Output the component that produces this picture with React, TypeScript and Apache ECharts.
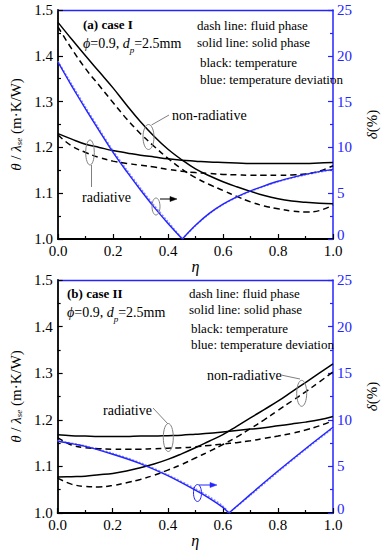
import React, { useEffect, useRef } from "react";
import * as echarts from "echarts";

// ---------- data ----------
const eta = [0, 0.05, 0.1, 0.15, 0.2, 0.25, 0.3, 0.35, 0.4, 0.45, 0.5, 0.55, 0.6, 0.65, 0.7, 0.75, 0.8, 0.85, 0.9, 0.95, 1.0];

// (a) case I  – temperature (left axis)
const nonRadSolidA = [1.473, 1.436, 1.4, 1.365, 1.33, 1.292, 1.256, 1.224, 1.196, 1.173, 1.153, 1.138, 1.125, 1.114, 1.104, 1.095, 1.088, 1.083, 1.08, 1.078, 1.077];
const nonRadDashA = [1.463, 1.415, 1.372, 1.335, 1.298, 1.262, 1.23, 1.202, 1.176, 1.153, 1.134, 1.119, 1.106, 1.093, 1.081, 1.072, 1.066, 1.061, 1.059, 1.062, 1.074];
const radSolidA = [1.23, 1.218, 1.207, 1.2, 1.193, 1.188, 1.183, 1.179, 1.175, 1.172, 1.17, 1.168, 1.167, 1.166, 1.165, 1.165, 1.165, 1.165, 1.165, 1.166, 1.167];
const radDashA = [1.227, 1.203, 1.189, 1.178, 1.17, 1.165, 1.161, 1.157, 1.152, 1.148, 1.145, 1.143, 1.141, 1.14, 1.139, 1.139, 1.139, 1.14, 1.142, 1.148, 1.16];
// (a) case I  – temperature deviation (right axis)
const devEtaA1 = [0, 0.05, 0.1, 0.15, 0.2, 0.25, 0.3, 0.35, 0.4, 0.452];
const devSolidA1 = [19.3, 16.7, 14.2, 11.8, 9.45, 7.35, 5.35, 3.45, 1.7, 0];
const devDashA1 = [19.4, 16.9, 14.4, 12.0, 9.65, 7.55, 5.55, 3.65, 1.9, 0];
const devEtaA2 = [0.452, 0.5, 0.55, 0.6, 0.65, 0.7, 0.75, 0.8, 0.85, 0.9, 0.95, 1.0];
const devSolidA2 = [0, 1.5, 2.8, 3.8, 4.6, 5.25, 5.8, 6.3, 6.7, 7.05, 7.35, 7.6];
const devDashA2 = [0, 1.45, 2.75, 3.75, 4.55, 5.2, 5.75, 6.25, 6.65, 7.0, 7.3, 7.55];

// (b) case II – temperature (left axis)
const nonRadSolidB = [1.077, 1.078, 1.079, 1.082, 1.085, 1.09, 1.097, 1.105, 1.115, 1.127, 1.14, 1.154, 1.168, 1.186, 1.204, 1.222, 1.24, 1.26, 1.28, 1.3, 1.32];
const nonRadDashB = [1.075, 1.062, 1.057, 1.056, 1.059, 1.065, 1.072, 1.081, 1.092, 1.104, 1.118, 1.132, 1.147, 1.163, 1.181, 1.2, 1.22, 1.24, 1.26, 1.281, 1.303];
const radSolidB = [1.168, 1.166, 1.165, 1.164, 1.164, 1.164, 1.165, 1.165, 1.166, 1.167, 1.169, 1.171, 1.174, 1.177, 1.18, 1.183, 1.187, 1.191, 1.195, 1.2, 1.207];
const radDashB = [1.162, 1.146, 1.14, 1.138, 1.137, 1.137, 1.137, 1.138, 1.139, 1.14, 1.142, 1.145, 1.148, 1.151, 1.155, 1.16, 1.165, 1.171, 1.178, 1.187, 1.198];
// (b) case II – temperature deviation (right axis)
const devEtaB1 = [0, 0.1, 0.2, 0.3, 0.4, 0.5, 0.55, 0.6, 0.622];
const devSolidB1 = [7.7, 7.15, 6.3, 5.3, 4.0, 2.45, 1.6, 0.6, 0];
const devDashB1 = [7.75, 7.2, 6.4, 5.4, 4.1, 2.6, 1.75, 0.75, 0];
const devEtaB2 = [0.622, 0.7, 0.8, 0.9, 1.0];
const devSolidB2 = [0, 2.0, 4.5, 6.9, 9.2];
const devDashB2 = [0, 1.9, 4.4, 6.8, 9.1];

const xTicks = { min: 0, max: 1, interval: 0.2 };
const tTicks = { min: 1.0, max: 1.5, interval: 0.1 };
const dTicks = { min: 0, max: 25, interval: 5 };

// ---------- styling helpers ----------
const FONT = "Liberation Serif";
const BLUE = "#2424ff";
const BLACK = "#000";
const GRAY = "#808080";

const pairs = (xs: number[], ys: number[]) => xs.map((x, i) => [x, ys[i]]);

function blackLine(name: string, xs: number[], ys: number[], dashed: boolean, xi: number, yi: number) {
  return {
    name,
    type: "line",
    xAxisIndex: xi,
    yAxisIndex: yi,
    data: pairs(xs, ys),
    smooth: 0.4,
    showSymbol: false,
    symbol: "none",
    lineStyle: { color: BLACK, width: 1.5, type: dashed ? [6, 4] : "solid" },
    z: 3,
  };
}
function blueLine(name: string, xs: number[], ys: number[], dashed: boolean, xi: number, yi: number) {
  return {
    name,
    type: "line",
    xAxisIndex: xi,
    yAxisIndex: yi,
    data: pairs(xs, ys),
    smooth: 0.3,
    showSymbol: false,
    symbol: "none",
    lineStyle: dashed ? { color: "#8c8cff", width: 1.5, type: [2, 1.5] } : { color: BLUE, width: 1.4, type: "solid" },
    z: dashed ? 2 : 4,
  };
}

function xAxisBottom(gridIndex: number) {
  return {
    type: "value",
    gridIndex,
    position: "bottom",
    ...xTicks,
    name: "η",
    nameLocation: "middle",
    nameGap: 17,
    nameTextStyle: { fontFamily: FONT, fontSize: 16, fontStyle: "italic", color: BLACK },
    axisLine: { show: true, onZero: false, lineStyle: { color: BLACK, width: 1.8 } },
    axisTick: { show: true, inside: true, length: 5, lineStyle: { color: BLACK, width: 1.2 } },
    minorTick: { show: true, splitNumber: 2, length: 3, lineStyle: { color: BLACK, width: 1.2 } },
    axisLabel: { margin: 4, fontFamily: FONT, fontSize: 15, color: BLACK, formatter: (v: number) => v.toFixed(1) },
    splitLine: { show: false },
    minorSplitLine: { show: false },
  };
}
function xAxisTop(gridIndex: number) {
  return {
    type: "value",
    gridIndex,
    position: "top",
    ...xTicks,
    axisLine: { show: true, onZero: false, lineStyle: { color: BLUE, width: 1.3 } },
    axisTick: { show: false },
    axisLabel: { show: false },
    splitLine: { show: false },
  };
}
function yAxisLeft(gridIndex: number, gap: number) {
  return {
    type: "value",
    gridIndex,
    position: "left",
    ...tTicks,
    name: "{i|θ}{n| / }{i|λ}{s|se}{n| (m·K/W)}",
    nameLocation: "middle",
    nameGap: gap,
    nameRotate: 90,
    nameTextStyle: {
      fontFamily: FONT,
      fontSize: 15,
      color: BLACK,
      rich: {
        i: { fontFamily: FONT, fontSize: 15, fontStyle: "italic", color: BLACK, verticalAlign: "middle" },
        n: { fontFamily: FONT, fontSize: 15, color: BLACK, verticalAlign: "middle" },
        s: { fontFamily: FONT, fontSize: 9, fontStyle: "italic", color: BLACK, verticalAlign: "bottom" },
      },
    },
    axisLine: { show: true, onZero: false, lineStyle: { color: BLACK, width: 1.8 } },
    axisTick: { show: true, inside: true, length: 5, lineStyle: { color: BLACK, width: 1.2 } },
    minorTick: { show: true, splitNumber: 2, length: 3, lineStyle: { color: BLACK, width: 1.2 } },
    axisLabel: { margin: 5, fontFamily: FONT, fontSize: 15, color: BLACK, formatter: (v: number) => v.toFixed(1) },
    splitLine: { show: false },
    minorSplitLine: { show: false },
  };
}
function yAxisRight(gridIndex: number) {
  return {
    type: "value",
    gridIndex,
    position: "right",
    ...dTicks,
    name: "{i|δ}{n|(%)}",
    nameLocation: "middle",
    nameGap: 31,
    nameRotate: 90,
    nameTextStyle: {
      fontFamily: FONT,
      fontSize: 15,
      color: BLACK,
      rich: {
        i: { fontFamily: FONT, fontSize: 15, fontStyle: "italic", color: BLACK },
        n: { fontFamily: FONT, fontSize: 15, color: BLACK },
      },
    },
    axisLine: { show: true, onZero: false, lineStyle: { color: BLUE, width: 1.5 } },
    axisTick: { show: true, inside: true, length: 5, lineStyle: { color: BLUE, width: 1.2 } },
    minorTick: { show: true, splitNumber: 2, length: 3, lineStyle: { color: BLUE, width: 1.2 } },
    axisLabel: {
      margin: 4,
      fontFamily: FONT,
      fontSize: 15,
      color: BLUE,
      formatter: (v: number) => (v === 0 ? "{z|0}" : String(v)),
      rich: { z: { fontFamily: FONT, fontSize: 15, color: BLUE, padding: [0, 0, 8, 0] } },
    },
    splitLine: { show: false },
    minorSplitLine: { show: false },
  };
}

// ---------- annotation helpers ----------
function txt(x: number, y: number, text: string, size = 13, bold = false) {
  return {
    type: "text",
    x,
    y,
    z: 10,
    style: {
      text,
      fontFamily: FONT,
      fontSize: size,
      fontWeight: bold ? "bold" : "normal",
      fill: BLACK,
      align: "left",
      verticalAlign: "middle",
    },
  };
}
function phiText(x: number, y: number) {
  return {
    type: "text",
    x,
    y,
    z: 10,
    style: {
      text: "{i|ϕ}{n|=0.9, }{i|d}{s|p}{n|=2.5mm}",
      fontFamily: FONT,
      fontSize: 14,
      fill: BLACK,
      align: "left",
      verticalAlign: "middle",
      rich: {
        i: { fontFamily: FONT, fontSize: 14, fontStyle: "italic", fill: BLACK, verticalAlign: "middle", lineHeight: 22 },
        n: { fontFamily: FONT, fontSize: 14, fill: BLACK, verticalAlign: "middle", lineHeight: 22 },
        s: { fontFamily: FONT, fontSize: 9, fontStyle: "italic", fill: BLACK, verticalAlign: "bottom", lineHeight: 22 },
      },
    },
  };
}
function ell(cx: number, cy: number, rx: number, ry: number, color = GRAY) {
  return {
    type: "ellipse",
    z: 10,
    shape: { cx, cy, rx, ry },
    style: { fill: "none", stroke: color, lineWidth: 1 },
  };
}
function seg(x1: number, y1: number, x2: number, y2: number, color = GRAY, w = 1) {
  return {
    type: "line",
    z: 10,
    shape: { x1, y1, x2, y2 },
    style: { stroke: color, lineWidth: w },
  };
}
function arrow(x1: number, y: number, x2: number, color: string) {
  return [
    seg(x1, y, x2 - 5, y, color, 1),
    {
      type: "polygon",
      z: 10,
      shape: { points: [[x2, y], [x2 - 7, y - 2.5], [x2 - 7, y + 2.5]] },
      style: { fill: color, stroke: color, lineWidth: 0.5 },
    },
  ];
}

export default function App() {
  const ref = useRef<HTMLDivElement>(null);
  useEffect(() => {
    const chart = echarts.init(ref.current as HTMLDivElement, null, { renderer: "svg" });
    const option: any = {
      animation: false,
      backgroundColor: "#fff",
      textStyle: { fontFamily: FONT },
      grid: [
        { left: 58, top: 10, width: 285, height: 229 },
        { left: 52, top: 280, width: 291, height: 233 },
      ],
      xAxis: [xAxisBottom(0), xAxisTop(0), xAxisBottom(1), xAxisTop(1)],
      yAxis: [yAxisLeft(0, 32), yAxisRight(0), yAxisLeft(1, 26), yAxisRight(1)],
      series: [
        blackLine("non-radiative solid (a)", eta, nonRadSolidA, false, 0, 0),
        blackLine("non-radiative fluid (a)", eta, nonRadDashA, true, 0, 0),
        blackLine("radiative solid (a)", eta, radSolidA, false, 0, 0),
        blackLine("radiative fluid (a)", eta, radDashA, true, 0, 0),
        blueLine("deviation fluid (a) 1", devEtaA1, devDashA1, true, 0, 1),
        blueLine("deviation fluid (a) 2", devEtaA2, devDashA2, true, 0, 1),
        blueLine("deviation solid (a) 1", devEtaA1, devSolidA1, false, 0, 1),
        blueLine("deviation solid (a) 2", devEtaA2, devSolidA2, false, 0, 1),

        blackLine("non-radiative solid (b)", eta, nonRadSolidB, false, 2, 2),
        blackLine("non-radiative fluid (b)", eta, nonRadDashB, true, 2, 2),
        blackLine("radiative solid (b)", eta, radSolidB, false, 2, 2),
        blackLine("radiative fluid (b)", eta, radDashB, true, 2, 2),
        blueLine("deviation fluid (b) 1", devEtaB1, devDashB1, true, 2, 3),
        blueLine("deviation fluid (b) 2", devEtaB2, devDashB2, true, 2, 3),
        blueLine("deviation solid (b) 1", devEtaB1, devSolidB1, false, 2, 3),
        blueLine("deviation solid (b) 2", devEtaB2, devSolidB2, false, 2, 3),
      ],
      graphic: [
        // panel (a)
        txt(83, 24, "(a) case I", 13, true),
        phiText(83, 43),
        txt(197, 25, "dash line: fluid phase", 13),
        txt(197, 42, "solid line: solid phase", 13),
        txt(200, 62, "black: temperature", 13),
        txt(200, 79, "blue: temperature deviation", 13),
        txt(172, 115, "non-radiative", 14),
        ell(148.5, 137, 5.5, 12.5),
        seg(151.5, 125, 169, 115),
        txt(82, 197, "radiative", 14),
        ell(90, 152.5, 4.3, 12.5),
        seg(91.5, 165, 91.5, 187),
        ell(156, 206.5, 4, 8.5),
        ...arrow(160, 199, 177, BLACK),
        // panel (b)
        txt(67, 293, "(b) case II", 13, true),
        phiText(67, 312),
        txt(189, 293, "dash line: fluid phase", 13),
        txt(189, 309, "solid line: solid phase", 13),
        txt(191, 328, "black: temperature", 13),
        txt(191, 344, "blue: temperature deviation", 13),
        txt(207, 375, "non-radiative", 14),
        seg(281, 375, 300, 379),
        ell(301.7, 393.3, 5, 13),
        txt(103, 410, "radiative", 14),
        seg(153, 408, 168, 424),
        ell(168.3, 437.5, 5, 14),
        ell(197.5, 493, 4, 8.5, BLUE),
        ...arrow(199, 485, 217, BLUE),
      ],
    };
    chart.setOption(option);
    return () => chart.dispose();
  }, []);
  return (
    <div
      ref={ref}
      style={{ position: "fixed", left: 0, top: 0, width: 387, height: 550, background: "#fff" }}
    />
  );
}
